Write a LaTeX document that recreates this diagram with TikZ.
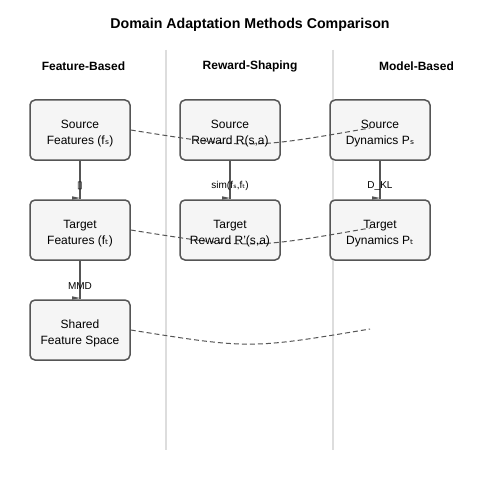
\documentclass[tikz,border=0pt]{standalone}
\usepackage{fontspec}
\setmainfont{Liberation Sans}
\newfontfamily\subf{DejaVu Sans}
\begin{document}
\begin{tikzpicture}[x=1pt,y=-1pt,
  box/.style={draw=boxline, fill=boxfill, line width=1.5pt, rounded corners=5pt, minimum width=100pt, minimum height=60pt, inner sep=0pt},
  boxtxt/.style={align=center, font=\fontsize{12}{15.5}\selectfont, text=black, inner sep=0pt},
  arr/.style={draw=boxline, line width=1.5pt},
  lbl/.style={font=\fontsize{10}{12}\selectfont, text=black, inner sep=0pt},
  head/.style={font=\bfseries\fontsize{12}{14}\selectfont, text=black},
  sep/.style={draw=sepgray, line width=2pt},
  dcurve/.style={draw=curvegray, line width=1pt, dash pattern=on 5pt off 3pt}
]
\definecolor{boxline}{HTML}{555555}
\definecolor{boxfill}{HTML}{F5F5F5}
\definecolor{sepgray}{HTML}{DDDDDD}
\definecolor{curvegray}{HTML}{555555}
\newcommand{\sbs}{{\subf ₛ}}
\newcommand{\sbt}{{\subf ₜ}}
\useasboundingbox (0,0) rectangle (500,500);
\fill[white] (0,0) rectangle (500,500);

\node[font=\bfseries\fontsize{14.2}{16}\selectfont] (title) at (250,25) {Domain Adaptation Methods Comparison};

\coordinate (s1t) at (166,50); \coordinate (s1b) at (166,450);
\coordinate (s2t) at (333,50); \coordinate (s2b) at (333,450);
\draw[sep] (s1t) -- (s1b);
\draw[sep] (s2t) -- (s2b);

\node[head] (h1) at (83.5,66) {Feature-Based};
\node[head] (h2) at (250,66) {Reward-Shaping};
\node[head] (h3) at (416.5,66) {Model-Based};

% boxes
\node[box] (sf) at (80,130) {};
\node[box] (tf) at (80,230) {};
\node[box] (sh) at (80,330) {};
\node[box] (sr) at (230,130) {};
\node[box] (tr) at (230,230) {};
\node[box] (sd) at (380,130) {};
\node[box] (td) at (380,230) {};

% arrows
\foreach \a/\b in {sf/tf, tf/sh, sr/tr, sd/td}{
  \draw[arr] (\a.south) -- (\b.north);
  \fill[boxline] ([xshift=-8pt,yshift=3pt]\b.north) -- ([yshift=1.2pt]\b.north) -- ([xshift=-8pt,yshift=-0.5pt]\b.north) -- cycle;
}

% dashed curves
\coordinate (e1) at (370,128);
\coordinate (e2) at (370,228);
\coordinate (e3) at (370,329);
\draw[dcurve] (sf.east) .. controls (250,149) .. (e1);
\draw[dcurve] (tf.east) .. controls (250,249) .. (e2);
\draw[dcurve] (sh.east) .. controls (250,349) .. (e3);

% box texts
\node[boxtxt] (sft) at ([yshift=-3.5pt]sf.center) {Source\\Features (f\sbs)};
\node[boxtxt] (tft) at ([yshift=-3.5pt]tf.center) {Target\\Features (f\sbt)};
\node[boxtxt] (sht) at ([yshift=-3.5pt]sh.center) {Shared\\Feature Space};
\node[boxtxt] (srt) at ([yshift=-3.5pt]sr.center) {Source\\Reward R(s,a)};
\node[boxtxt] (trt) at ([yshift=-3.5pt]tr.center) {Target\\Reward R'(s,a)};
\node[boxtxt] (sdt) at ([yshift=-3.5pt]sd.center) {Source\\Dynamics P\sbs};
\node[boxtxt] (tdt) at ([yshift=-3.5pt]td.center) {Target\\Dynamics P\sbt};

% arrow labels
\node[lbl] (l1) at (80,186) {{\subf ▯}};
\node[lbl] (l2) at (80,286) {MMD};
\node[lbl] (l3) at (230,186) {sim(f\sbs,f\sbt)};
\node[lbl] (l4) at (380,186) {D\_KL};
\end{tikzpicture}
\end{document}
